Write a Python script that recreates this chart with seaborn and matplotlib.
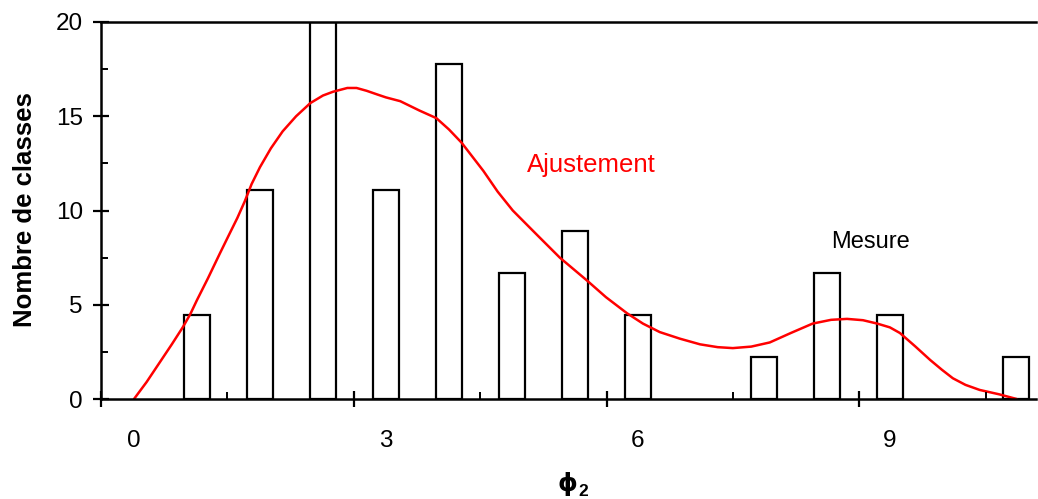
import numpy as np
import pandas as pd
import matplotlib
matplotlib.use("Agg")
import matplotlib.pyplot as plt
import seaborn as sns
from matplotlib.ticker import FixedLocator, NullFormatter

sns.set_style("white")
plt.rcParams['font.family'] = ['Liberation Sans', 'DejaVu Sans']
plt.rcParams['text.color'] = 'black'
plt.rcParams['xtick.color'] = 'black'
plt.rcParams['ytick.color'] = 'black'

# Measured histogram (class centres and percentage of classes)
bar_x = [0.75, 1.5, 2.25, 3.0, 3.75, 4.5, 5.25, 6.0, 7.5, 8.25, 9.0, 10.5]
bar_y = [4.44, 11.11, 20.0, 11.11, 17.78, 6.67, 8.89, 4.44, 2.22, 6.67, 4.44, 2.22]

# Fitted curve ("Ajustement")
fit_x = [0.0, 0.15, 0.3, 0.45, 0.58, 0.67, 0.75, 0.88, 1.02, 1.13, 1.23, 1.32, 1.4,
         1.5, 1.63, 1.77, 1.93, 2.1, 2.25, 2.37, 2.54, 2.65, 2.77, 2.9, 3.0, 3.17,
         3.4, 3.6, 3.75, 3.9, 4.03, 4.16, 4.33, 4.51, 4.8, 5.07, 5.39, 5.62, 5.87,
         6.06, 6.26, 6.5, 6.74, 6.95, 7.13, 7.35, 7.57, 7.82, 8.08, 8.3, 8.49, 8.68,
         8.85, 9.0, 9.12, 9.3, 9.48, 9.62, 9.75, 9.9, 10.07, 10.3, 10.51]
fit_y = [0.0, 0.9, 1.9, 2.9, 3.8, 4.5, 5.25, 6.4, 7.7, 8.7, 9.6, 10.5, 11.4,
         12.3, 13.3, 14.2, 15.0, 15.7, 16.1, 16.3, 16.5, 16.5, 16.35, 16.15, 16.0, 15.8,
         15.3, 14.9, 14.3, 13.6, 12.85, 12.1, 11.0, 10.0, 8.7, 7.5, 6.3, 5.4, 4.55,
         4.0, 3.55, 3.2, 2.9, 2.75, 2.7, 2.78, 3.0, 3.5, 4.0, 4.2, 4.25, 4.18,
         4.0, 3.8, 3.5, 2.8, 2.07, 1.55, 1.1, 0.75, 0.48, 0.25, 0.0]

xtick_labels = ["0", "3", "6", "9"]
xtick_label_pos = [0, 3, 6, 9]
ytick_vals = [0, 5, 10, 15, 20]

W, H = 1038, 499
fig = plt.figure(figsize=(W / 100, H / 100), dpi=100)
ax = fig.add_axes([101 / W, 1 - 399 / H, (1036 - 101) / W, (399 - 22) / H])

bars = pd.DataFrame({"x": bar_x, "y": bar_y})
sns.barplot(data=bars, x="x", y="y", native_scale=True, width=0.31 / 0.75,
            color="white", edgecolor="black", linewidth=1.6, ax=ax)
fit = pd.DataFrame({"x": fit_x, "y": fit_y})
sns.lineplot(data=fit, x="x", y="y", color="red", linewidth=1.8, ax=ax)

ax.set_xlim(-0.393, 10.74)
ax.set_ylim(0, 20)
ax.set_xlabel("")
ax.set_ylabel("")

for s in ["top", "bottom", "left"]:
    ax.spines[s].set_visible(True)
    ax.spines[s].set_color("black")
    ax.spines[s].set_linewidth(1.8)
ax.spines["right"].set_visible(False)

# y ticks
ax.set_yticks(ytick_vals)
ax.set_yticklabels([str(v) for v in ytick_vals])
ax.yaxis.set_minor_locator(FixedLocator([2.5, 7.5, 12.5, 17.5]))
ax.tick_params(axis="y", which="major", direction="inout", length=12, width=1.6,
               labelsize=17.5, pad=7, left=True, colors="black")
ax.tick_params(axis="y", which="minor", direction="in", length=5, width=1.4, left=True)

# x labels (no marks) at category centres
ax.set_xticks(xtick_label_pos)
ax.set_xticklabels(xtick_labels)
ax.tick_params(axis="x", which="major", length=0, labelsize=17.5, pad=22, colors="black")

# x tick marks at class-group boundaries (Excel style)
ax2 = ax.twiny()
ax2.set_xlim(ax.get_xlim())
ax2.xaxis.set_ticks_position("bottom")
for s in ax2.spines.values():
    s.set_visible(False)
major_marks = [-0.393 + 3.01 * k for k in range(4)]
minor_marks = [m + 1.505 for m in major_marks]
ax2.xaxis.set_major_locator(FixedLocator(major_marks))
ax2.xaxis.set_minor_locator(FixedLocator(minor_marks))
ax2.xaxis.set_major_formatter(NullFormatter())
ax2.tick_params(axis="x", which="major", direction="inout", length=12, width=1.6, bottom=True, top=False)
ax2.tick_params(axis="x", which="minor", direction="in", length=5, width=1.4, bottom=True, top=False)

ax.text(4.68, 12.4, "Ajustement", color="red", fontsize=18.5, ha="left", va="center")
ax.text(8.3, 8.35, "Mesure", color="black", fontsize=17, ha="left", va="center")

fig.text(25 / W, 1 - 210 / H, "Nombre de classes", rotation=90, fontsize=18.5,
         fontweight="bold", ha="center", va="center")
fig.text(577 / W, 1 - 484 / H, "ϕ", fontsize=18, fontweight="bold",
         ha="right", va="center", family=["DejaVu Sans"])
fig.text(578 / W, 1 - 491 / H, "2", fontsize=12.5, fontweight="bold",
         ha="left", va="center")

fig.savefig("out.png", dpi=100)
